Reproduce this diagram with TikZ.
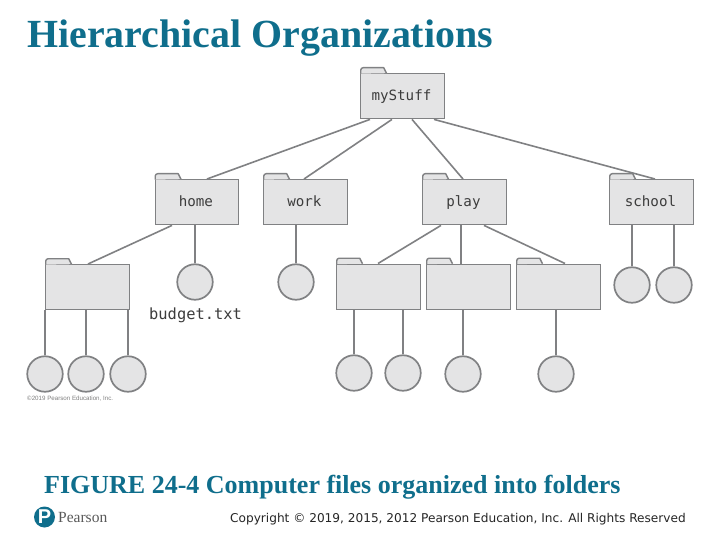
\documentclass[tikz,border=0pt]{standalone}
\usepackage{fontspec}
\setmainfont{Liberation Serif}
\newfontfamily\monof{DejaVu Sans Mono}
\newfontfamily\sansf{DejaVu Sans}
\newfontfamily\helvf{Liberation Sans}
\definecolor{teal1}{HTML}{0F6E8C}
\definecolor{fillg}{HTML}{E4E4E5}
\definecolor{lineg}{HTML}{808183}
\definecolor{labg}{HTML}{3C3C3C}
\tikzset{
  folderbody/.style={draw=lineg,fill=fillg,line width=1.4pt,minimum width=83.5pt,minimum height=45pt,inner sep=0pt,anchor=north west,font=\monof\fontsize{14.2}{14.2}\selectfont,text=labg},
  foldertab/.style={draw=lineg,fill=fillg,line width=1.4pt,line join=round},
  filenode/.style={circle,draw=lineg,fill=fillg,line width=1.7pt,minimum size=35.5pt,inner sep=0pt},
  edge/.style={draw=lineg,line width=1.6pt},
  titletext/.style={text=teal1,anchor=base west,inner sep=0pt,font=\bfseries},
}
\newcommand{\foldr}[4]{%
  \node[folderbody] (#1) at (#2,#3) {\hspace{-2pt}\raisebox{3pt}{#4}};
  \draw[foldertab] ([xshift=.7pt,yshift=-.7pt]#1.north west) -- ++(0,-3.5) arc[start angle=180,end angle=90,radius=2.5pt] -- ++(20.5,0) -- ++(2.8,5.5);
  \fill[fillg] ([xshift=1.4pt,yshift=-2.2pt]#1.north west) rectangle ++(22.6,3.7);
}
\begin{document}
\begin{tikzpicture}[x=1pt,y=-1pt]
\useasboundingbox (0,0) rectangle (720,540);
\fill[white] (0,0) rectangle (720,540);
% title
\node[titletext,font=\bfseries\fontsize{39.9}{39.9}\selectfont] (title) at (27,48) {Hierarchical Organizations};
% folders
\foldr{mystuff}{360}{73}{myStuff}
\foldr{home}{154.5}{179}{home}
\foldr{work}{263}{179}{work}
\foldr{play}{422}{179}{play}
\foldr{school}{609}{179}{school}
\foldr{fa}{45}{264}{}
\foldr{fb}{336}{263.5}{}
\foldr{fc}{426}{263.5}{}
\foldr{fd}{516}{263.5}{}
% files
\node[filenode] (budget) at (195,282) {};
\node[filenode] (wfile) at (296,282) {};
\node[filenode] (sa) at (632,285) {};
\node[filenode] (sb) at (674,285) {};
\node[filenode] (a1) at (45,374) {};
\node[filenode] (a2) at (86,374) {};
\node[filenode] (a3) at (128,374) {};
\node[filenode] (b1) at (354,373) {};
\node[filenode] (b2) at (403,373) {};
\node[filenode] (c1) at (463,374) {};
\node[filenode] (d1) at (556,374) {};
% connectors
\draw[edge] ([xshift=10pt]mystuff.south west) -- ([xshift=52.5pt]home.north west);
\draw[edge] ([xshift=32pt]mystuff.south west) -- ([xshift=41pt]work.north west);
\draw[edge] ([xshift=52pt]mystuff.south west) -- ([xshift=41pt]play.north west);
\draw[edge] ([xshift=74pt]mystuff.south west) -- ([xshift=46pt]school.north west);
\draw[edge] ([xshift=17.5pt]home.south west) -- ([xshift=43pt]fa.north west);
\draw[edge] ([xshift=40.5pt]home.south west) -- (budget.north);
\draw[edge] ([xshift=33pt]work.south west) -- (wfile.north);
\draw[edge] ([xshift=19pt]play.south west) -- ([xshift=42pt]fb.north west);
\draw[edge] ([xshift=39pt]play.south west) -- ([xshift=35pt]fc.north west);
\draw[edge] ([xshift=62pt]play.south west) -- ([xshift=49pt]fd.north west);
\draw[edge] ([xshift=23pt]school.south west) -- (sa.north);
\draw[edge] ([xshift=65pt]school.south west) -- (sb.north);
\draw[edge] (fa.south west) -- (a1.north);
\draw[edge] ([xshift=41pt]fa.south west) -- (a2.north);
\draw[edge] ([xshift=83pt]fa.south west) -- (a3.north);
\draw[edge] ([xshift=18pt]fb.south west) -- (b1.north);
\draw[edge] ([xshift=67pt]fb.south west) -- (b2.north);
\draw[edge] ([xshift=37pt]fc.south west) -- (c1.north);
\draw[edge] ([xshift=40pt]fd.south west) -- (d1.north);
% labels
\node[anchor=base west,inner sep=0pt,text=labg,font=\monof\fontsize{15.4}{15.4}\selectfont] (budgetlab) at (149,319) {budget.txt};
\node[anchor=base west,inner sep=0pt,text=gray,font=\helvf\fontsize{6.2}{6.2}\selectfont] (credit) at (27,400.5) {©2019 Pearson Education, Inc.};
\node[titletext,font=\bfseries\fontsize{26}{26}\selectfont] (caption) at (44,493) {FIGURE 24-4 Computer files organized into folders};
\node[anchor=base west,inner sep=0pt,text=black!85,font=\sansf\fontsize{12.13}{12.13}\selectfont] (copy) at (230,522) {Copyright © 2019, 2015, 2012 Pearson Education, Inc. All Rights Reserved};
% logo
\node[circle,fill=teal1,minimum size=21pt,inner sep=0pt,text=white,font=\helvf\bfseries\fontsize{20}{20}\selectfont] (logo) at (44.5,517) {P};
\node[anchor=base west,inner sep=0pt,text=black!65,font=\fontsize{15.5}{15.5}\selectfont] (pearson) at (58,522.5) {Pearson};
\end{tikzpicture}
\end{document}
